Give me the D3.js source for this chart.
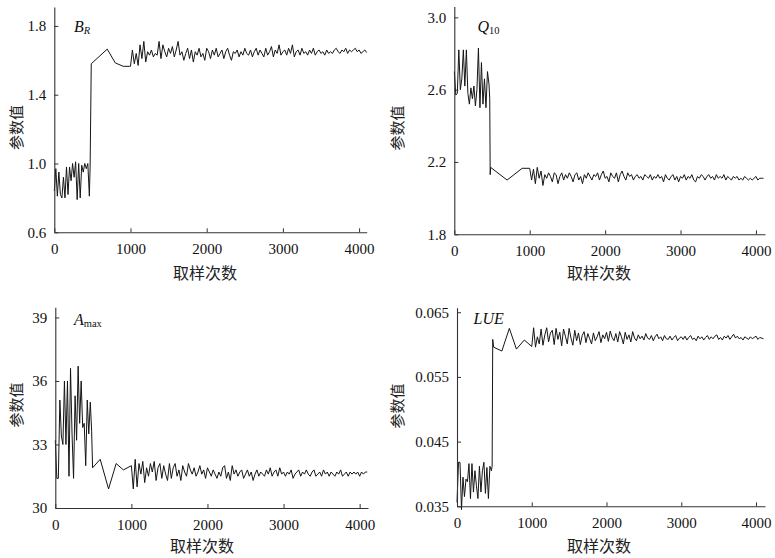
<!DOCTYPE html>
<html>
<head>
<meta charset="utf-8">
<script src="https://cdn.jsdelivr.net/npm/d3@7/dist/d3.min.js"></script>
<style>
  html, body { margin: 0; padding: 0; background: #fff; }
  svg { display: block; }
</style>
</head>
<body>
<svg id="chart" width="775" height="558"></svg>
<script>
// ---------- DATA ----------
const xTicks = [0, 1000, 2000, 3000, 4000];
const xLabel = "取样次数";
const yLabel = "参数值";

// sample numbers (burn-in phase, stored every 20 samples)
const burnX = [0, 20, 40, 60, 80, 100, 120, 140, 160, 180, 200, 220, 240, 260, 280, 300, 320, 340, 360, 380, 400, 420, 440, 460];
// sample numbers (converged phase, stored every 25 samples)
const chainX = [1000, 1025, 1050, 1075, 1100, 1125, 1150, 1175, 1200,
  1225, 1250, 1275, 1300, 1325, 1350, 1375, 1400, 1425, 1450, 1475, 1500,
  1525, 1550, 1575, 1600, 1625, 1650, 1675, 1700, 1725, 1750, 1775, 1800,
  1825, 1850, 1875, 1900, 1925, 1950, 1975, 2000, 2025, 2050, 2075, 2100,
  2125, 2150, 2175, 2200, 2225, 2250, 2275, 2300, 2325, 2350, 2375, 2400,
  2425, 2450, 2475, 2500, 2525, 2550, 2575, 2600, 2625, 2650, 2675, 2700,
  2725, 2750, 2775, 2800, 2825, 2850, 2875, 2900, 2925, 2950, 2975, 3000,
  3025, 3050, 3075, 3100, 3125, 3150, 3175, 3200, 3225, 3250, 3275, 3300,
  3325, 3350, 3375, 3400, 3425, 3450, 3475, 3500, 3525, 3550, 3575, 3600,
  3625, 3650, 3675, 3700, 3725, 3750, 3775, 3800, 3825, 3850, 3875, 3900,
  3925, 3950, 3975, 4000, 4025, 4050, 4075, 4100];

// B_R
const brTicks = [0.6, 1.0, 1.4, 1.8];
const brBurn = [0.84, 0.97, 0.81, 0.95, 0.82, 0.80, 0.92, 0.80, 0.98, 0.82, 0.98, 0.90, 1.00, 0.92, 1.01, 0.79, 1.00, 0.80, 0.99, 0.95, 1.00, 0.97, 1.00, 0.81];
const brMidX = [470, 485, 695, 800, 905, 990];
const brMidY = [0.98, 1.58, 1.665, 1.585, 1.565, 1.565];
const brChain = [1.565, 1.66, 1.58, 1.64, 1.57, 1.69, 1.61, 1.71, 1.59,
  1.65, 1.63, 1.66, 1.62, 1.64, 1.63, 1.71, 1.61, 1.69, 1.65, 1.62, 1.67,
  1.64, 1.68, 1.62, 1.66, 1.71, 1.63, 1.65, 1.60, 1.64, 1.67, 1.61, 1.66,
  1.59, 1.65, 1.63, 1.67, 1.62, 1.64, 1.60, 1.67, 1.65, 1.61, 1.66, 1.63,
  1.67, 1.62, 1.64, 1.66, 1.61, 1.65, 1.67, 1.63, 1.60, 1.65, 1.64, 1.66,
  1.62, 1.65, 1.63, 1.67, 1.64, 1.63, 1.66, 1.62, 1.65, 1.67, 1.63, 1.66,
  1.64, 1.62, 1.67, 1.63, 1.65, 1.68, 1.62, 1.66, 1.64, 1.69, 1.63, 1.65,
  1.66, 1.63, 1.67, 1.64, 1.69, 1.62, 1.65, 1.66, 1.63, 1.67, 1.64, 1.65,
  1.63, 1.66, 1.64, 1.67, 1.63, 1.65, 1.66, 1.64, 1.65, 1.63, 1.66, 1.64,
  1.65, 1.64, 1.66, 1.67, 1.65, 1.64, 1.66, 1.65, 1.67, 1.64, 1.66, 1.65,
  1.66, 1.67, 1.65, 1.66, 1.64, 1.65, 1.66, 1.645];

// Q10
const q10Ticks = [1.8, 2.2, 2.6, 3.0];
const q10Burn = [2.70, 2.57, 2.58, 2.82, 2.60, 2.66, 2.82, 2.62, 2.82, 2.58, 2.52, 2.61, 2.55, 2.62, 2.51, 2.60, 2.83, 2.50, 2.75, 2.52, 2.66, 2.50, 2.70, 2.63];
const q10MidX = [470, 476, 482, 700, 900, 990];
const q10MidY = [2.55, 2.13, 2.17, 2.10, 2.165, 2.165];
const q10Chain = [2.165, 2.10, 2.16, 2.08, 2.17, 2.11, 2.15, 2.07, 2.13,
  2.11, 2.14, 2.12, 2.09, 2.14, 2.13, 2.08, 2.12, 2.14, 2.10, 2.13, 2.11,
  2.14, 2.12, 2.09, 2.13, 2.14, 2.10, 2.12, 2.08, 2.13, 2.11, 2.14, 2.12,
  2.10, 2.13, 2.12, 2.14, 2.10, 2.13, 2.15, 2.11, 2.12, 2.09, 2.14, 2.12,
  2.11, 2.14, 2.09, 2.13, 2.15, 2.12, 2.10, 2.14, 2.12, 2.13, 2.10, 2.12,
  2.13, 2.11, 2.12, 2.10, 2.13, 2.12, 2.11, 2.13, 2.10, 2.12, 2.11, 2.13,
  2.11, 2.12, 2.09, 2.13, 2.11, 2.10, 2.12, 2.13, 2.10, 2.12, 2.09, 2.12,
  2.11, 2.13, 2.10, 2.12, 2.11, 2.13, 2.10, 2.09, 2.12, 2.11, 2.13, 2.12,
  2.10, 2.12, 2.13, 2.11, 2.12, 2.10, 2.13, 2.11, 2.12, 2.11, 2.13, 2.10,
  2.12, 2.11, 2.10, 2.12, 2.11, 2.12, 2.10, 2.11, 2.10, 2.12, 2.11, 2.10,
  2.11, 2.10, 2.11, 2.12, 2.10, 2.11, 2.11, 2.11];

// A_max
const amaxTicks = [30, 33, 36, 39];
const amaxBurn = [33.2, 31.4, 31.4, 35.1, 33.4, 33.0, 36.0, 33.0, 36.0, 31.5, 36.6, 33.5, 31.4, 35.3, 33.2, 36.7, 34.0, 36.0, 33.8, 34.0, 32.0, 35.1, 33.5, 35.0];
const amaxMidX = [478, 490, 590, 700, 800, 895];
const amaxMidY = [33.6, 31.9, 32.3, 30.9, 32.1, 31.8];
const amaxChain = [32.0, 30.9, 32.3, 31.0, 32.1, 31.6, 32.2, 31.2, 31.9,
  31.5, 32.1, 31.7, 32.2, 31.3, 31.9, 32.1, 31.4, 32.0, 31.6, 31.3, 32.1,
  31.4, 31.9, 32.1, 31.5, 31.8, 31.3, 32.0, 31.7, 31.5, 32.1, 31.8, 31.6,
  31.9, 31.5, 31.7, 32.0, 31.6, 31.8, 31.4, 31.9, 31.7, 31.5, 31.8, 31.6,
  31.4, 31.7, 31.5, 31.9, 32.0, 31.4, 31.7, 31.3, 32.0, 31.6, 31.8, 31.5,
  31.7, 31.8, 31.4, 31.6, 31.8, 31.5, 31.7, 31.3, 31.6, 31.8, 31.5, 31.7,
  31.6, 31.5, 31.8, 31.6, 31.9, 31.5, 31.7, 31.8, 31.5, 31.9, 31.6, 31.7,
  31.5, 31.7, 31.6, 31.8, 31.4, 31.6, 31.7, 31.8, 31.5, 31.7, 31.6, 31.8,
  31.6, 31.5, 31.7, 31.8, 31.5, 31.6, 31.7, 31.5, 31.8, 31.6, 31.7, 31.5,
  31.7, 31.6, 31.5, 31.7, 31.6, 31.8, 31.5, 31.6, 31.7, 31.5, 31.7, 31.6,
  31.7, 31.6, 31.7, 31.5, 31.7, 31.6, 31.7, 31.7];

// LUE
const lueTicks = [0.035, 0.045, 0.055, 0.065];
const lueBurn = [0.0356, 0.0418, 0.0418, 0.0345, 0.0395, 0.0365, 0.0392, 0.0388, 0.0416, 0.0362, 0.0416, 0.0372, 0.0405, 0.0382, 0.0362, 0.0412, 0.0372, 0.0405, 0.0418, 0.0370, 0.0410, 0.0362, 0.0412, 0.0405];
const lueMidX = [470, 478, 490, 600, 700, 795, 900];
const lueMidY = [0.0412, 0.0608, 0.0596, 0.0590, 0.0625, 0.0593, 0.0607];
const lueChain = [0.0597, 0.0626, 0.0596, 0.0612, 0.0601, 0.0624, 0.0599, 0.0615, 0.0626,
  0.0604, 0.0618, 0.0622, 0.0600, 0.0625, 0.0608, 0.0619, 0.0598, 0.0624, 0.0613, 0.0601, 0.0625,
  0.0610, 0.0599, 0.0622, 0.0606, 0.0618, 0.0600, 0.0614, 0.0620, 0.0603, 0.0617, 0.0609, 0.0601,
  0.0618, 0.0606, 0.0612, 0.0620, 0.0603, 0.0615, 0.0609, 0.0619, 0.0605, 0.0621, 0.0611, 0.0606,
  0.0617, 0.0604, 0.0620, 0.0612, 0.0601, 0.0619, 0.0608, 0.0615, 0.0604, 0.0620, 0.0610, 0.0606,
  0.0615, 0.0609, 0.0613, 0.0607, 0.0617, 0.0610, 0.0608, 0.0614, 0.0606, 0.0612, 0.0616, 0.0609,
  0.0612, 0.0606, 0.0614, 0.0609, 0.0608, 0.0613, 0.0607, 0.0611, 0.0614, 0.0606, 0.0610, 0.0612,
  0.0608, 0.0613, 0.0607, 0.0611, 0.0614, 0.0608, 0.0610, 0.0606, 0.0613, 0.0609, 0.0612, 0.0607,
  0.0611, 0.0614, 0.0608, 0.0612, 0.0609, 0.0613, 0.0615, 0.0608, 0.0611, 0.0607, 0.0613, 0.0610,
  0.0614, 0.0608, 0.0612, 0.0616, 0.0610, 0.0613, 0.0609, 0.0611, 0.0607, 0.0612, 0.0610, 0.0608,
  0.0612, 0.0609, 0.0611, 0.0613, 0.0608, 0.0611, 0.0610, 0.0609];

// ---------- LAYOUT ----------
const SERIF = '"Liberation Serif", "DejaVu Serif", serif';
const CJK = '"Noto Sans CJK SC", "Noto Sans CJK JP", sans-serif';

const panels = [
  { main: "B", sub: "R", subItalic: true, burn: brBurn, midX: brMidX, midY: brMidY, chain: brChain,
    yTicks: brTicks, fmt: ".1f", xDom: [0, 4100], yDom: [0.6, 1.91],
    x0: 54.3, x1: 366.7, y0: 232.3, y1: 7,
    title: [74, 31.5], ylab: [15, 127.5], xlab: [205, 272] },
  { main: "Q", sub: "10", subItalic: false, burn: q10Burn, midX: q10MidX, midY: q10MidY, chain: q10Chain,
    yTicks: q10Ticks, fmt: ".1f", xDom: [0, 4120], yDom: [1.8, 3.06],
    x0: 454.3, x1: 765, y0: 234.3, y1: 6.5,
    title: [477.5, 32], ylab: [396, 128], xlab: [599, 272] },
  { main: "A", sub: "max", subItalic: false, burn: amaxBurn, midX: amaxMidX, midY: amaxMidY, chain: amaxChain,
    yTicks: amaxTicks, fmt: "d", xDom: [0, 4110], yDom: [30, 39.48],
    x0: 55.3, x1: 368, y0: 508, y1: 307.3,
    title: [74, 324.5], ylab: [15, 405], xlab: [202, 544.5] },
  { main: "LUE", sub: "", subItalic: false, burn: lueBurn, midX: lueMidX, midY: lueMidY, chain: lueChain,
    yTicks: lueTicks, fmt: ".3f", xDom: [0, 4120], yDom: [0.035, 0.0657],
    x0: 457, x1: 765, y0: 506.3, y1: 307.7,
    title: [473.5, 323.5], ylab: [396, 406], xlab: [599, 544.5] }
];

const svg = d3.select("#chart");

panels.forEach(p => {
  const x = d3.scaleLinear().domain(p.xDom).range([p.x0, p.x1]);
  const y = d3.scaleLinear().domain(p.yDom).range([p.y0, p.y1]);

  const pts = [];
  p.burn.forEach((v, i) => pts.push([burnX[i], v]));
  p.midX.forEach((xx, i) => pts.push([xx, p.midY[i]]));
  p.chain.forEach((v, i) => pts.push([chainX[i], v]));

  const g = svg.append("g");

  // data trace
  g.append("path")
    .datum(pts)
    .attr("fill", "none")
    .attr("stroke", "#151515")
    .attr("stroke-width", 1)
    .attr("d", d3.line().x(d => x(d[0])).y(d => y(d[1])));

  // axes
  const xa = g.append("g")
    .attr("transform", `translate(0,${p.y0})`)
    .call(d3.axisBottom(x).tickValues(xTicks).tickFormat(d3.format("d")).tickSizeInner(-4).tickSizeOuter(0).tickPadding(11));
  const ya = g.append("g")
    .attr("transform", `translate(${p.x0},0)`)
    .call(d3.axisLeft(y).tickValues(p.yTicks).tickFormat(d3.format(p.fmt)).tickSizeInner(-4).tickSizeOuter(0).tickPadding(8));
  [xa, ya].forEach(a => {
    a.select(".domain").attr("stroke", "#333").attr("stroke-width", 1.1);
    a.selectAll(".tick line").attr("stroke", "#333").attr("stroke-width", 1);
    a.selectAll(".tick text")
      .style("font-family", SERIF).style("font-size", "15px").attr("fill", "#111");
  });

  // title
  const t = g.append("text")
    .style("font-family", SERIF).attr("fill", "#111")
    .attr("x", p.title[0]).attr("y", p.title[1]);
  t.append("tspan").style("font-style", "italic").style("font-size", "16px").text(p.main);
  if (p.sub) {
    t.append("tspan").style("font-style", p.subItalic ? "italic" : "normal")
      .style("font-size", "10.5px").attr("dy", 2).text(p.sub);
  }

  // axis labels
  g.append("text")
    .style("font-family", CJK).style("font-size", "16px").attr("fill", "#222")
    .attr("x", p.xlab[0]).attr("y", p.xlab[1])
    .attr("text-anchor", "middle").attr("dominant-baseline", "central")
    .text(xLabel);
  g.append("text")
    .style("font-family", CJK).style("font-size", "15px").attr("fill", "#222")
    .attr("transform", `translate(${p.ylab[0]},${p.ylab[1]}) rotate(-90)`)
    .attr("text-anchor", "middle").attr("dominant-baseline", "central")
    .text(yLabel);
});
</script>
</body>
</html>
